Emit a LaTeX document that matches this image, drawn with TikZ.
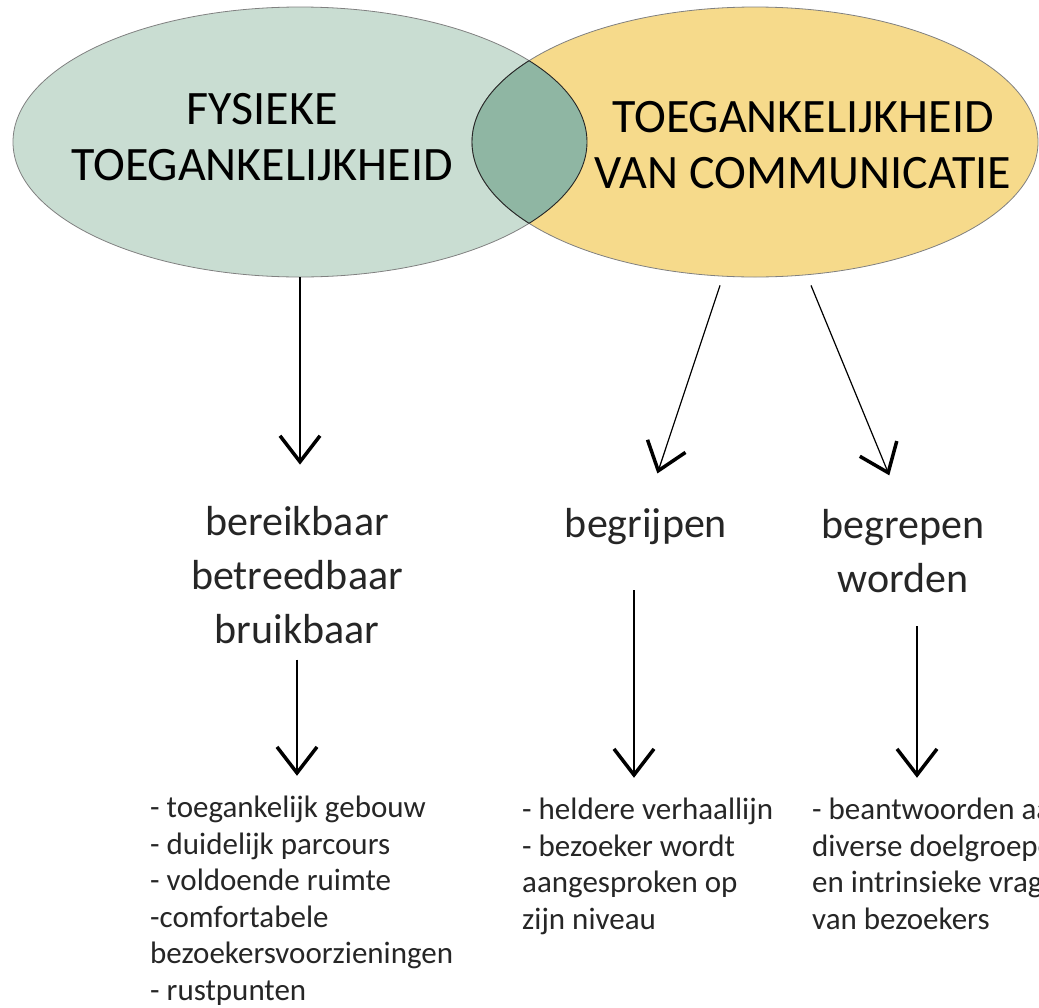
\documentclass[tikz,border=0pt]{standalone}
\usepackage{fontspec}
\setmainfont{Carlito}
\usetikzlibrary{arrows.meta,shapes.geometric,positioning}

\definecolor{sage}{HTML}{C9DDD2}
\definecolor{sagedark}{HTML}{8FB6A3}
\definecolor{sand}{HTML}{F6DA8B}

\tikzset{
  blob/.style={ellipse, draw=black!50, line width=0.8pt, inner sep=0pt},
  heading/.style={align=center, inner sep=0pt, font=\fontsize{48}{56}\selectfont},
  keyword/.style={align=center, inner sep=0pt, text=black!85, font=\fontsize{42}{54}\selectfont},
  items/.style={align=left, inner sep=0pt, text=black!85, font=\fontsize{31}{36.5}\selectfont},
  flow/.style={line width=1.2pt, -{Straight Barb[length=26pt,width=40pt,line width=3.5pt]}}
}

\begin{document}
\begin{tikzpicture}[x=1pt,y=-1pt]
\path[use as bounding box, clip] (0,0) rectangle (1039,1007);
\fill[white] (0,0) rectangle (1039,1007);

% two ellipses
\node[blob, fill=sage, minimum width=574pt, minimum height=270pt] (phys) at (300,142) {};
\node[blob, fill=sand, minimum width=566pt, minimum height=270pt] (comm) at (755,142) {};

% overlap
\begin{scope}
\clip (300,142) ellipse [x radius=287, y radius=135];
\fill[sagedark, draw=black!85, line width=0.9pt] (755,142) ellipse [x radius=283, y radius=135];
\end{scope}
\begin{scope}
\clip (755,142) ellipse [x radius=283, y radius=135];
\draw[black!85, line width=0.9pt] (300,142) ellipse [x radius=287, y radius=135];
\end{scope}

\node[heading, anchor=base] (physlbl) at (262,180) {FYSIEKE\\TOEGANKELIJKHEID};
\node[heading, anchor=base] (commlbl) at (803,188) {TOEGANKELIJKHEID\\VAN COMMUNICATIE};

% second row (base = last line)
\node[keyword, anchor=base] (reach) at (297,643) {bereikbaar\\betreedbaar\\bruikbaar};
\node[keyword, anchor=base] (grasp) at (646,537) {begrijpen};
\node[keyword, anchor=base] (held) at (903,592) {begrepen\\worden};

% lists
\node[items, anchor=base west] (physlist) at (150,1000) {- toegankelijk gebouw\\- duidelijk parcours\\- voldoende ruimte\\-comfortabele\\bezoekersvoorzieningen\\- rustpunten};
\node[items, anchor=base west] (commlist) at (522,929) {- heldere verhaallijn\\- bezoeker wordt\\aangesproken op\\zijn niveau};
\node[items, anchor=base west] (vislist) at (812,929) {- beantwoorden aan\\diverse doelgroepen\\en intrinsieke vragen\\van bezoekers};

% arrows
\draw[flow, shorten >=41pt] (phys.south) -- (phys.south |- reach.north);
\draw[flow, shorten >=36pt] ([xshift=-35pt,yshift=-8pt]comm.south) -- (grasp.north);
\draw[flow, shorten >=36pt] ([xshift=56pt,yshift=-8pt]comm.south) -- (held.north);
\draw[flow, shorten <=16pt, shorten >=20pt] (reach.south) -- (reach.south |- physlist.north);
\draw[flow, shorten <=46pt, shorten >=20pt] ([xshift=-12pt]grasp.south) -- ([xshift=-12pt]grasp.south |- commlist.north);
\draw[flow, shorten <=34pt, shorten >=20pt] ([xshift=14pt]held.south) -- ([xshift=14pt]held.south |- vislist.north);
\end{tikzpicture}
\end{document}
